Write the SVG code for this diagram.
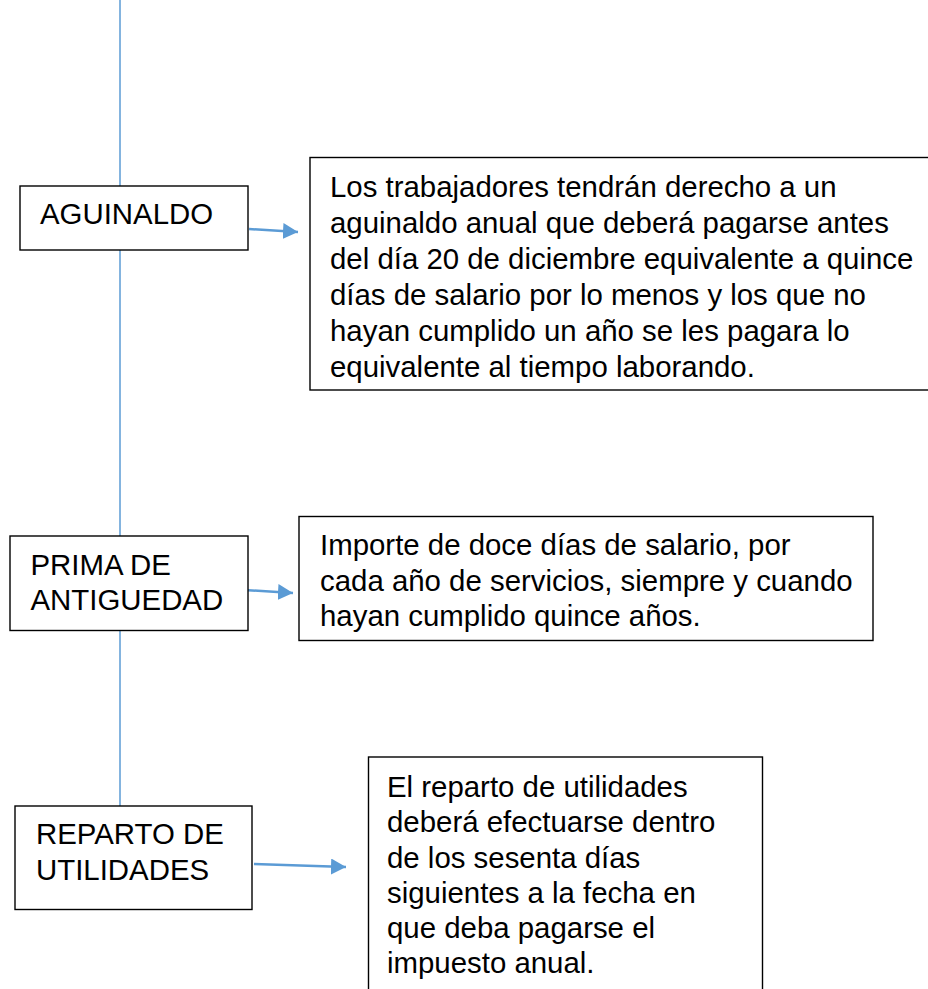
<svg xmlns="http://www.w3.org/2000/svg" width="928" height="989" viewBox="0 0 928 989">
<style>
.box{fill:#fff;stroke:#000;stroke-width:1.4}
.t{font-family:"Liberation Sans",Arial,sans-serif;font-size:29.4px;fill:#000}
.conn{stroke:#5B9BD5;fill:none}
</style>
<defs>
<marker id="ah" markerUnits="userSpaceOnUse" markerWidth="16" markerHeight="16" viewBox="0 0 16 16" refX="15" refY="8" orient="auto">
<path d="M0,0 L15,8 L0,16 Z" fill="#5B9BD5"/>
</marker>
</defs>
<rect width="928" height="989" fill="#fff"/>
<g id="connectors">
<line class="conn" x1="120" y1="0" x2="120" y2="806" stroke-width="1.5"/>
<line class="conn" x1="249" y1="229" x2="298" y2="232" stroke-width="2.5" marker-end="url(#ah)"/>
<line class="conn" x1="244" y1="590" x2="293" y2="593" stroke-width="2.5" marker-end="url(#ah)"/>
<line class="conn" x1="254" y1="864" x2="346" y2="867" stroke-width="2.5" marker-end="url(#ah)"/>
</g>
<g id="aguinaldo">
<rect class="box" x="20" y="186" width="228" height="64"/>
<text class="t" x="40" y="224">AGUINALDO</text>
</g>
<g id="aguinaldo-desc">
<rect class="box" x="310" y="157.5" width="620" height="232.5"/>
<text class="t" x="330" y="197">Los trabajadores tendrán derecho a un</text>
<text class="t" x="330" y="233">aguinaldo anual que deberá pagarse antes</text>
<text class="t" x="330" y="269">del día 20 de diciembre equivalente a quince</text>
<text class="t" x="330" y="305">días de salario por lo menos y los que no</text>
<text class="t" x="330" y="341">hayan cumplido un año se les pagara lo</text>
<text class="t" x="330" y="377">equivalente al tiempo laborando.</text>
</g>
<g id="prima">
<rect class="box" x="10" y="536" width="238" height="94.5"/>
<text class="t" x="30.5" y="575">PRIMA DE</text>
<text class="t" x="30.5" y="610">ANTIGUEDAD</text>
</g>
<g id="prima-desc">
<rect class="box" x="299" y="516.5" width="574" height="124"/>
<text class="t" x="320" y="555">Importe de doce días de salario, por</text>
<text class="t" x="320" y="591">cada año de servicios, siempre y cuando</text>
<text class="t" x="320" y="626">hayan cumplido quince años.</text>
</g>
<g id="reparto">
<rect class="box" x="15" y="806" width="237" height="103.5"/>
<text class="t" x="36" y="844">REPARTO DE</text>
<text class="t" x="36" y="880">UTILIDADES</text>
</g>
<g id="reparto-desc">
<rect class="box" x="368.5" y="757" width="394" height="240"/>
<text class="t" x="387" y="797">El reparto de utilidades</text>
<text class="t" x="387" y="832">deberá efectuarse dentro</text>
<text class="t" x="387" y="868">de los sesenta días</text>
<text class="t" x="387" y="903">siguientes a la fecha en</text>
<text class="t" x="387" y="938">que deba pagarse el</text>
<text class="t" x="387" y="973">impuesto anual.</text>
</g>
</svg>
